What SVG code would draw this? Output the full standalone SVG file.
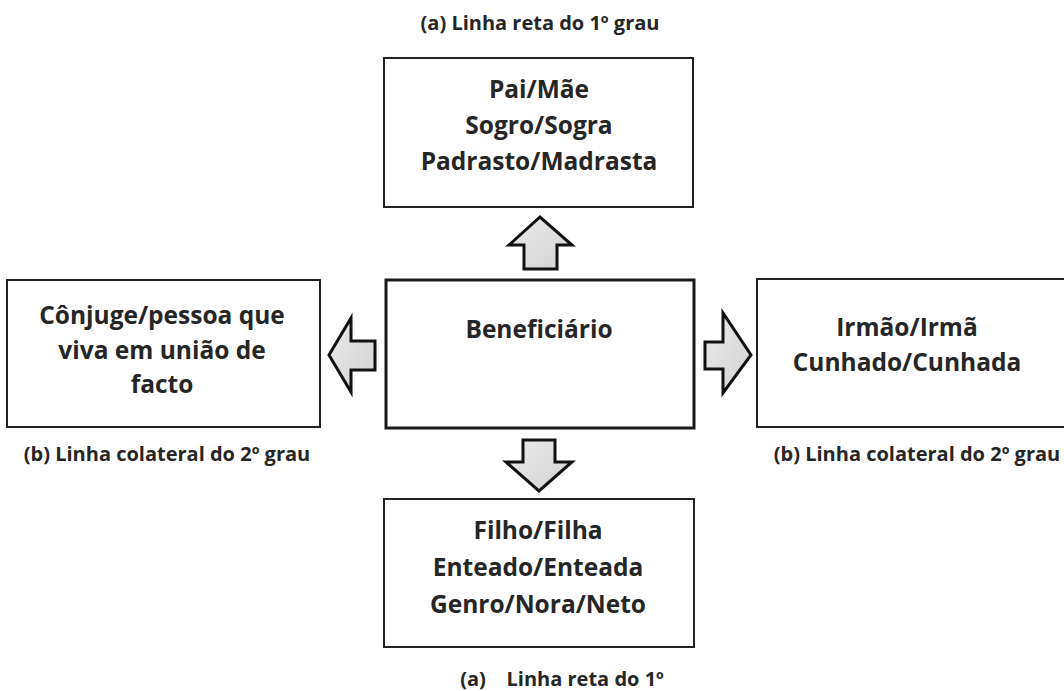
<svg xmlns="http://www.w3.org/2000/svg" width="1064" height="691" viewBox="0 0 1064 691">
<defs>
<linearGradient id="g" x1="0" y1="0" x2="1" y2="1"><stop offset="0" stop-color="#ebebeb"/><stop offset="1" stop-color="#d2d2d2"/></linearGradient>
<style>
.box{fill:#fff;stroke:#222;stroke-width:2}
.main{fill:#fff;stroke:#1a1a1a;stroke-width:3}
.arr{fill:url(#g);stroke:#111;stroke-width:3;stroke-linejoin:miter}
.t{font-family:"Open Sans","Noto Sans",sans-serif;font-weight:bold;font-size:24.5px;fill:#262626;text-anchor:middle}
.l{font-family:"Open Sans","Noto Sans",sans-serif;font-weight:bold;font-size:20px;fill:#262626;text-anchor:middle}
</style>
</defs>
<rect width="1064" height="691" fill="#fff"/>
<text class="l" x="540" y="30">(a) Linha reta do 1º grau</text>
<g id="top">
<rect class="box" x="384" y="58" width="309" height="149"/>
<text class="t" x="539" y="98">Pai/Mãe</text>
<text class="t" x="539" y="134">Sogro/Sogra</text>
<text class="t" x="539" y="170">Padrasto/Madrasta</text>
</g>
<g id="center">
<rect class="main" x="386" y="280" width="308" height="148"/>
<text class="t" x="539" y="338">Beneficiário</text>
</g>
<g id="left">
<rect class="box" x="7" y="280" width="313" height="147"/>
<text class="t" x="162" y="324">Cônjuge/pessoa que</text>
<text class="t" x="162" y="359">viva em união de</text>
<text class="t" x="162" y="393">facto</text>
</g>
<text class="l" x="167" y="461">(b) Linha colateral do 2º grau</text>
<g id="right">
<rect class="box" x="757" y="279" width="320" height="148"/>
<text class="t" x="907" y="336">Irmão/Irmã</text>
<text class="t" x="907" y="371">Cunhado/Cunhada</text>
</g>
<text class="l" x="917" y="461">(b) Linha colateral do 2º grau</text>
<g id="bottom">
<rect class="box" x="384" y="499" width="310" height="148"/>
<text class="t" x="538" y="539">Filho/Filha</text>
<text class="t" x="538" y="576">Enteado/Enteada</text>
<text class="t" x="538" y="613">Genro/Nora/Neto</text>
</g>
<text class="l" x="562" y="686" xml:space="preserve">(a)    Linha reta do 1º</text>
<g id="connectors">
<polygon class="arr" points="524,269 524,245 509,245 540,217 572,245 557,245 557,269"/>
<polygon class="arr" points="375,341 351,341 351,318 329,355 351,392 351,370 375,370"/>
<polygon class="arr" points="705,342 723,342 723,313 751,355 723,393 723,369 705,369"/>
<polygon class="arr" points="523,440 555,440 555,462 572,462 539,491 506,462 523,462"/>
</g>
</svg>
